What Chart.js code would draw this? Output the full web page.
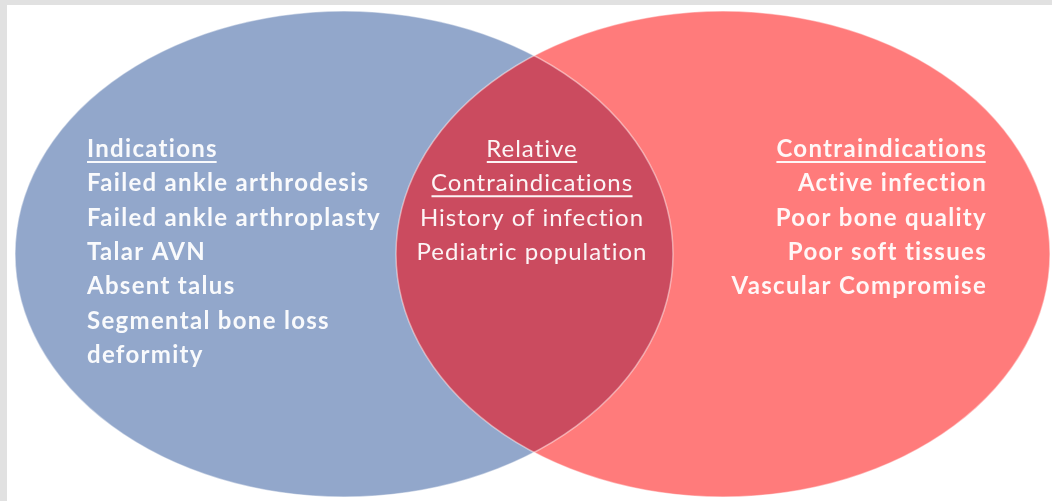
<!DOCTYPE html>
<html>
<head>
<meta charset="utf-8">
<title>Venn</title>
<script src="https://cdn.jsdelivr.net/npm/chart.js@4.4.0/dist/chart.umd.min.js"></script>
<style>
  html, body { margin: 0; padding: 0; background: #e1e1e1; overflow: hidden; }
  #wrap { position: absolute; left: 7px; top: 5px; width: 1045px; height: 496px; background: #fff; }
</style>
</head>
<body>
<div id="wrap"><canvas id="venn"></canvas></div>
<script>
// ----------------- Données -----------------
// les deux ensembles (centre + demi-axes, en unités du diagramme)
const setNames = ['Indications', 'Contraindications'];
const setCenterX = [337, 716];
const setCenterY = [249, 249];
const setRadiusX = [329, 327];
const setRadiusY = [243, 243];

// textes de chaque zone
const indicationsTitle = ['Indications'];
const indications = ['Failed ankle arthrodesis', 'Failed ankle arthroplasty', 'Talar AVN', 'Absent talus', 'Segmental bone loss', 'deformity'];
const relativeTitle = ['Relative', 'Contraindications'];
const relative = ['History of infection', 'Pediatric population'];
const contraTitle = ['Contraindications'];
const contraindications = ['Active infection', 'Poor bone quality', 'Poor soft tissues', 'Vascular Compromise'];

// ----------------- Styles -----------------
const fills = ['rgb(146,167,203)', 'rgb(255,123,123)'];
const overlapFill = 'rgb(203,75,95)';
const textColor = 'rgba(255,255,255,0.94)';
const lineGap = 34.3;

// blocs de texte : ancre (unités du diagramme), alignement, graisse
const blocks = [
  { title: indicationsTitle, items: indications, x: 80, y: 152, align: 'left', weight: 'bold', spacing: 1.3 },
  { title: relativeTitle, items: relative, x: 525, y: 152, align: 'center', weight: 'normal', spacing: 1 },
  { title: contraTitle, items: contraindications, x: 980, y: 152, align: 'right', weight: 'bold', spacing: 1.3 }
];

function ellipsePath(ctx, chart, i) {
  const sx = chart.scales.x, sy = chart.scales.y;
  const cx = sx.getPixelForValue(setCenterX[i]);
  const cy = sy.getPixelForValue(setCenterY[i]);
  const rx = Math.abs(sx.getPixelForValue(setCenterX[i] + setRadiusX[i]) - cx);
  const ry = Math.abs(sy.getPixelForValue(setCenterY[i] + setRadiusY[i]) - cy);
  ctx.beginPath();
  ctx.ellipse(cx, cy, rx, ry, 0, 0, Math.PI * 2);
}

const vennPlugin = {
  id: 'venn',
  beforeDatasetsDraw(chart) {
    const ctx = chart.ctx;
    ctx.save();
    // ellipses
    for (let i = 0; i < setNames.length; i++) {
      ellipsePath(ctx, chart, i);
      ctx.fillStyle = fills[i];
      ctx.fill();
    }
    // zone commune
    ctx.save();
    ellipsePath(ctx, chart, 0);
    ctx.clip();
    ellipsePath(ctx, chart, 1);
    ctx.fillStyle = overlapFill;
    ctx.fill();
    ctx.restore();
    // fin liseré clair
    ctx.lineWidth = 1.5;
    ctx.strokeStyle = 'rgba(255,255,255,0.45)';
    for (let i = 0; i < setNames.length; i++) {
      ellipsePath(ctx, chart, i);
      ctx.stroke();
    }
    ctx.restore();
  },
  afterDatasetsDraw(chart) {
    const ctx = chart.ctx;
    const sx = chart.scales.x, sy = chart.scales.y;
    ctx.save();
    ctx.fillStyle = textColor;
    ctx.strokeStyle = textColor;
    ctx.textBaseline = 'alphabetic';
    blocks.forEach(b => {
      ctx.font = b.weight + ' 24px Lato';
      ctx.letterSpacing = b.spacing + 'px';
      ctx.textAlign = b.align;
      const x = sx.getPixelForValue(b.x);
      let y = sy.getPixelForValue(b.y);
      b.title.forEach(t => {
        ctx.fillText(t, x, y);
        const w = ctx.measureText(t).width - b.spacing; // sans l'espace final
        let x0 = x;
        if (b.align === 'center') x0 = x - w / 2;
        if (b.align === 'right') x0 = x - w - b.spacing;
        ctx.lineWidth = 2;
        ctx.beginPath();
        ctx.moveTo(x0, y + 5);
        ctx.lineTo(x0 + w, y + 5);
        ctx.stroke();
        y += lineGap;
      });
      b.items.forEach(t => {
        ctx.fillText(t, x, y);
        y += lineGap;
      });
    });
    ctx.restore();
  }
};

const venn = new Chart(document.getElementById('venn').getContext('2d'), {
  type: 'scatter',
  data: {
    datasets: setNames.map((name, i) => ({
      label: name,
      data: [{ x: setCenterX[i], y: setCenterY[i] }],
      pointRadius: 0,
      backgroundColor: fills[i]
    }))
  },
  options: {
    responsive: true,
    maintainAspectRatio: false,
    animation: false,
    layout: { padding: 0 },
    scales: {
      x: { type: 'linear', min: 0, max: 1045, display: false },
      y: { type: 'linear', min: 0, max: 496, reverse: true, display: false }
    },
    plugins: { legend: { display: false }, tooltip: { enabled: false } }
  },
  plugins: [vennPlugin]
});
</script>
</body>
</html>
